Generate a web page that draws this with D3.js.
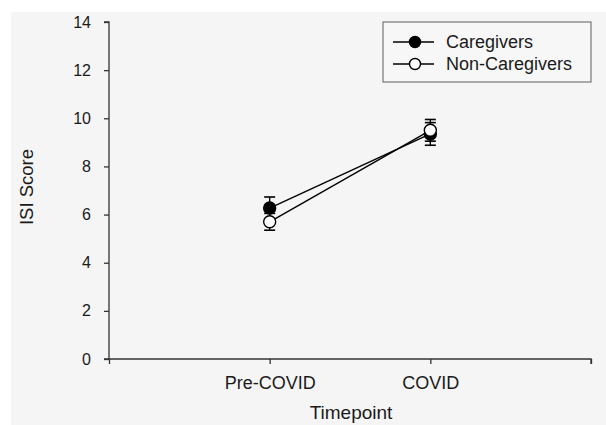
<!DOCTYPE html>
<html>
<head>
<meta charset="utf-8">
<script src="https://cdn.jsdelivr.net/npm/d3@7"></script>
<style>
  html, body { margin:0; padding:0; background:#fff; overflow:hidden; }
  svg { display:block; font-family: "Liberation Sans", Arial, sans-serif; }
</style>
</head>
<body>
<div id="chart"></div>
<script>
// data
const timepoints = ['Pre-COVID', 'COVID'];
const caregiverMeans = [6.27, 9.35];
const caregiverSE = [0.46, 0.47];
const nonCaregiverMeans = [5.7, 9.5];
const nonCaregiverSE = [0.35, 0.45];
const yTicks = [0, 2, 4, 6, 8, 10, 12, 14];

const series = [
  {name:'Caregivers', means:caregiverMeans, se:caregiverSE, fill:'#000'},
  {name:'Non-Caregivers', means:nonCaregiverMeans, se:nonCaregiverSE, fill:'#fff'}
];

const width = 606, height = 425;
const svg = d3.select('#chart').append('svg').attr('width', width).attr('height', height);

// grey panel
svg.append('rect').attr('x', 11).attr('y', 12).attr('width', width - 11).attr('height', height - 12).attr('fill', '#f5f5f5');

const x = d3.scaleLinear().domain([0, 3]).range([109, 591]);
const y = d3.scaleLinear().domain([0, 14]).range([359, 22]);

// axes
const xAxis = d3.axisBottom(x).tickValues([0, 1, 2, 3]).tickSize(5).tickPadding(12)
  .tickFormat(d => timepoints[d - 1] || '');
const gx = svg.append('g').attr('transform', `translate(0,${y(0)})`).call(xAxis);
gx.selectAll('text').attr('font-size', '18px').attr('fill', '#1a1a1a');

const yAxis = d3.axisLeft(y).tickValues(yTicks).tickSize(5).tickPadding(13);
const gy = svg.append('g').attr('transform', `translate(${x(0)},0)`).call(yAxis);
gy.selectAll('text').attr('font-size', '16px').attr('fill', '#1a1a1a');

[gx, gy].forEach(g => {
  g.select('.domain').attr('stroke', '#333').attr('stroke-width', 1.3);
  g.selectAll('.tick line').attr('stroke', '#333').attr('stroke-width', 1.3);
  g.attr('font-family', null);
});
// y axis line reaches the tick at 0 on the left
gy.select('.domain').attr('d', `M-5,${y(14)}H0V${y(0)}`);
gx.select('.domain').attr('d', `M${x(0) - 5},0H${x(3)}V5`);

// axis titles
svg.append('text').attr('x', 351).attr('y', 419).attr('text-anchor', 'middle')
  .attr('font-size', '19px').attr('fill', '#1a1a1a').text('Timepoint');
svg.append('text').attr('transform', 'translate(33,187) rotate(-90)').attr('text-anchor', 'middle')
  .attr('font-size', '18.5px').attr('fill', '#1a1a1a').text('ISI Score');

// series
series.forEach(s => {
  const g = svg.append('g');
  const pts = s.means.map((m, i) => ({x: x(i + 1), m, se: s.se[i]}));
  g.append('path')
    .attr('d', d3.line().x(d => d.x).y(d => y(d.m))(pts))
    .attr('fill', 'none').attr('stroke', '#000').attr('stroke-width', 1.4);
  pts.forEach(p => {
    g.append('line').attr('x1', p.x).attr('x2', p.x).attr('y1', y(p.m - p.se)).attr('y2', y(p.m + p.se))
      .attr('stroke', '#000').attr('stroke-width', 1.4);
    [p.m - p.se, p.m + p.se].forEach(v => {
      g.append('line').attr('x1', p.x - 5.5).attr('x2', p.x + 5.5).attr('y1', y(v)).attr('y2', y(v))
        .attr('stroke', '#000').attr('stroke-width', 1.6);
    });
    g.append('circle').attr('cx', p.x).attr('cy', y(p.m)).attr('r', 6)
      .attr('fill', s.fill).attr('stroke', '#000').attr('stroke-width', 1.4);
  });
});

// legend
const legend = svg.append('g');
legend.append('rect').attr('x', 383).attr('y', 22).attr('width', 208).attr('height', 60)
  .attr('fill', '#f7f7f7').attr('stroke', '#777').attr('stroke-width', 1.2);
series.forEach((s, i) => {
  const ly = 42 + i * 22;
  legend.append('line').attr('x1', 393).attr('x2', 434).attr('y1', ly).attr('y2', ly)
    .attr('stroke', '#000').attr('stroke-width', 1.4);
  legend.append('circle').attr('cx', 415).attr('cy', ly).attr('r', 5.5)
    .attr('fill', s.fill).attr('stroke', '#000').attr('stroke-width', 1.4);
  legend.append('text').attr('x', 446).attr('y', ly + 6).attr('font-size', '18px')
    .attr('fill', '#1a1a1a').text(s.name);
});
</script>
</body>
</html>
